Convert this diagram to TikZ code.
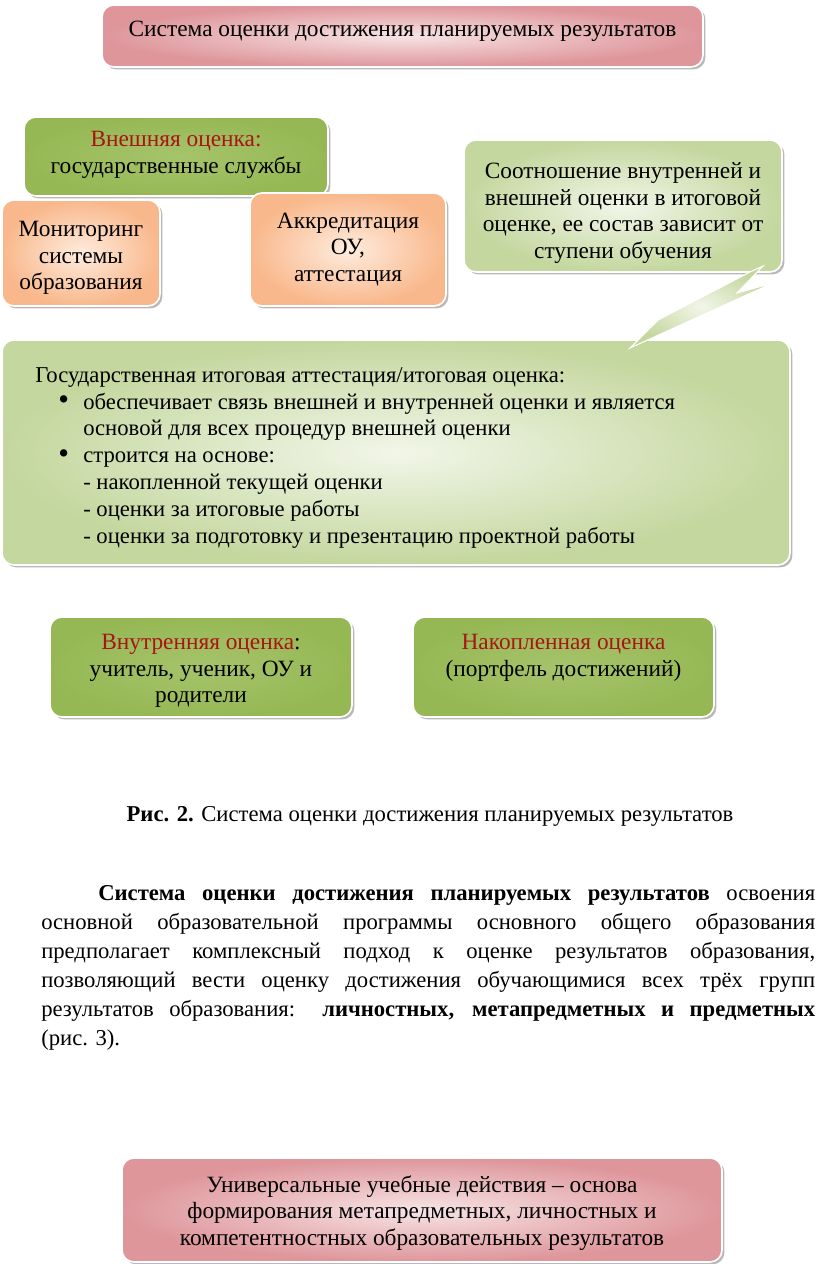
\documentclass[tikz,border=0pt]{standalone}
\usepackage{fontspec}
\setmainfont{Liberation Serif}
\usetikzlibrary{shadows}
\definecolor{pinkout}{RGB}{222,150,155}
\definecolor{pinkin}{RGB}{247,228,229}
\definecolor{grnout}{RGB}{150,184,84}
\definecolor{grnin}{RGB}{166,196,108}
\definecolor{orout}{RGB}{249,184,140}
\definecolor{orin}{RGB}{254,236,222}
\definecolor{lgout}{RGB}{196,215,158}
\definecolor{lgin}{RGB}{242,246,233}
\definecolor{dred}{RGB}{170,20,20}
\newcommand{\bul}{\raisebox{-0.5pt}{\scalebox{1.35}{•}}}
\begin{document}
\begin{tikzpicture}[x=0.75pt,y=-0.75pt,
  box/.style={rounded corners=9pt, draw=white, line width=1.2pt, inner sep=0pt,
    drop shadow={shadow xshift=1.8pt, shadow yshift=-1.8pt, fill=black!50, opacity=0.55}},
  pinkbox/.style={box, inner color=pinkin, outer color=pinkout},
  greenbox/.style={box, inner color=grnin, outer color=grnout},
  orangebox/.style={box, inner color=orin, outer color=orout},
  lightbox/.style={box, inner color=lgin, outer color=lgout},
  boxtext/.style={inner sep=0pt, align=center, font=\fontsize{17.5}{20.1}\selectfont},
  bodytext/.style={inner sep=0pt, font=\fontsize{17}{21.75}\selectfont}
]
\useasboundingbox[fill=white] (0,0) rectangle (816,1264);

% title
\node[pinkbox, minimum width=601*0.75pt, minimum height=62*0.75pt] (title) at (402.5,36) {};
\node[boxtext] (titleT) at (402.5,31) {Система оценки достижения планируемых результатов};

% external assessment
\node[greenbox, minimum width=304*0.75pt, minimum height=79*0.75pt] (ext) at (176,156.5) {};
\node[boxtext] (extT) at (176,155) {\textcolor{dred}{Внешняя оценка:}\\государственные службы};
\node[orangebox, minimum width=158*0.75pt, minimum height=106*0.75pt] (mon) at (81,253) {};
\node[boxtext] (monT) at (81,258) {Мониторинг\\системы\\образования};
\node[orangebox, minimum width=196*0.75pt, minimum height=113*0.75pt] (akk) at (348,249.5) {};
\node[boxtext] (akkT) at (348,249.5) {Аккредитация\\ОУ,\\аттестация};

% big box
\node[lightbox, minimum width=788*0.75pt, minimum height=225*0.75pt] (big) at (396,452.5) {};
\node[anchor=north west, align=left, inner sep=0pt, font=\fontsize{17}{20.1}\selectfont] (gia) at (35,367)
  {Государственная итоговая аттестация/итоговая оценка:\\
   \hspace*{17.25pt}\makebox[18.75pt][l]{\bul}обеспечивает связь внешней и внутренней оценки и является\\
   \hspace*{36pt}основой для всех процедур внешней оценки\\
   \hspace*{17.25pt}\makebox[18.75pt][l]{\bul}строится на основе:\\
   \hspace*{36pt}- накопленной текущей оценки\\
   \hspace*{36pt}- оценки за итоговые работы\\
   \hspace*{36pt}- оценки за подготовку и презентацию проектной работы};

% callout
\node[lightbox, minimum width=318*0.75pt, minimum height=132*0.75pt] (rel) at (623,206) {};
\node[boxtext] (relT) at (623,213) {Соотношение внутренней и\\внешней оценки в итоговой\\оценке, ее состав зависит от\\ступени обучения};
\coordinate (tailtip) at (630,348);
\path[inner color=lgin, outer color=lgout, draw=white, line width=0.8pt]
  (tailtip) -- (658,320) -- (752,271) -- (763,266) -- (737,293) -- (773,283) -- cycle;

% internal and accumulated
\node[greenbox, minimum width=302*0.75pt, minimum height=100*0.75pt] (int) at (201,667) {};
\node[boxtext] (intT) at (201,671) {\textcolor{dred}{Внутренняя оценка}:\\учитель, ученик, ОУ и\\родители};
\node[greenbox, minimum width=301*0.75pt, minimum height=100*0.75pt] (nak) at (563.5,667) {};
\node[boxtext] (nakT) at (563.5,658) {\textcolor{dred}{Накопленная оценка}\\(портфель достижений)};

% caption
\node[bodytext] (cap) at (430,816) {\textbf{Рис. 2.} Система оценки достижения планируемых результатов};

% paragraph
\node[bodytext, anchor=north west, text width=774*0.75pt, align=justify] (para) at (41,885)
  {\hspace*{42.75pt}\textbf{Система оценки достижения планируемых результатов} освоения\linebreak
   основной образовательной программы основного общего образования\linebreak
   предполагает комплексный подход к оценке результатов образования,\linebreak
   позволяющий вести оценку достижения обучающимися всех трёх групп\linebreak
   результатов образования: \textbf{личностных, метапредметных и предметных}\linebreak
   (рис. 3).};

% bottom box
\node[pinkbox, minimum width=600*0.75pt, minimum height=104*0.75pt] (uud) at (422,1210) {};
\node[boxtext] (uudT) at (422,1213) {Универсальные учебные действия – основа\\формирования метапредметных, личностных и\\компетентностных образовательных результатов};
\end{tikzpicture}
\end{document}
